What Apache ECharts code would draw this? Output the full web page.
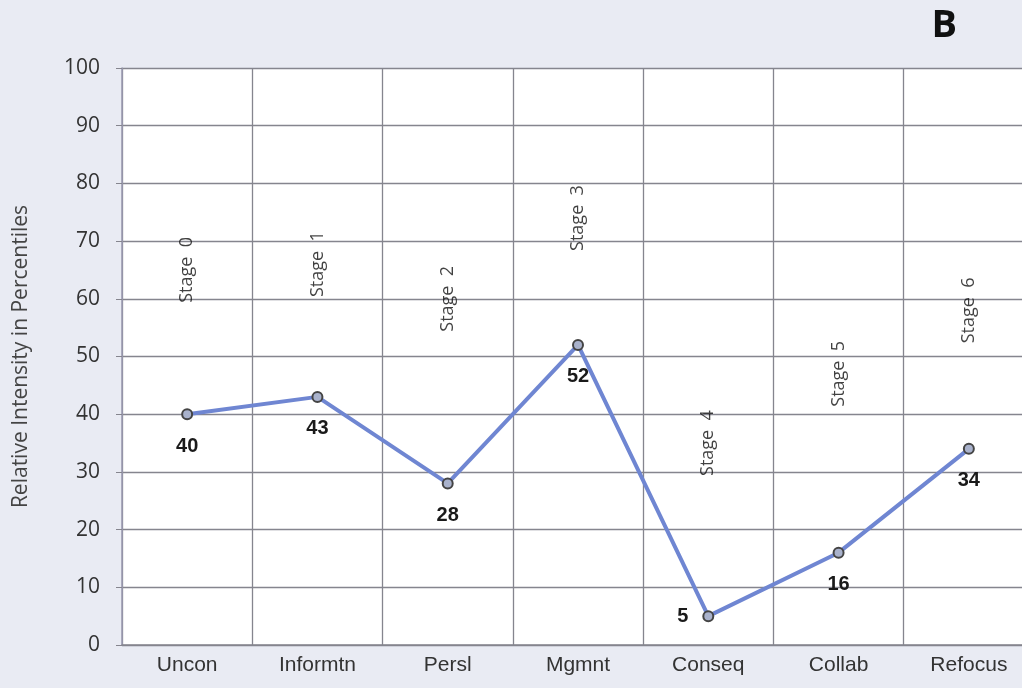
<!DOCTYPE html>
<html>
<head>
<meta charset="utf-8">
<script src="https://cdn.jsdelivr.net/npm/echarts@6/dist/echarts.min.js"></script>
<style>
  html, body { margin: 0; padding: 0; background: #e9ebf3; }
  #chart { width: 1022px; height: 688px; }
</style>
</head>
<body>
<div id="chart"></div>
<script>
const categories = ['Uncon', 'Informtn', 'Persl', 'Mgmnt', 'Conseq', 'Collab', 'Refocus'];
const values = [40, 43, 28, 52, 5, 16, 34];
const stageNames = ['Stage  0', 'Stage  1', 'Stage  2', 'Stage  3', 'Stage  4', 'Stage  5', 'Stage  6'];
const stageLabelY = [65, 66, 60, 74, 35, 47, 58];
const yTicks = { min: 0, max: 100, interval: 10 };

const chart = echarts.init(document.getElementById('chart'));

const gridColor = '#85858e';

// the value 5 label sits left of its point in the original
const lineData = values.map((v, i) => i === 4
  ? { value: v, label: { position: 'left', distance: 14 } }
  : v);

chart.setOption({
  backgroundColor: '#e9ebf3',
  animation: false,
  title: {
    text: 'B',
    right: 60,
    top: 2,
    textStyle: { fontFamily: 'Open Sans', fontWeight: 'bold', fontSize: 38, color: '#111' }
  },
  grid: {
    left: 122,
    right: -12,
    top: 68,
    bottom: 43,
    outerBoundsMode: 'none',
    containLabel: false,
    show: true,
    backgroundColor: '#ffffff',
    borderWidth: 0
  },
  xAxis: {
    type: 'category',
    data: categories,
    boundaryGap: true,
    axisLine: { show: true, lineStyle: { color: gridColor, width: 1.5 } },
    axisTick: { show: false },
    splitLine: { show: true, lineStyle: { color: gridColor, width: 1.3 } },
    axisLabel: {
      margin: 10,
      fontFamily: 'Liberation Sans Narrow, Liberation Sans, Arial',
      fontSize: 21,
      color: '#333'
    }
  },
  yAxis: {
    type: 'value',
    min: yTicks.min,
    max: yTicks.max,
    interval: yTicks.interval,
    name: 'Relative Intensity in Percentiles',
    nameLocation: 'middle',
    nameGap: 90,
    nameTextStyle: { fontFamily: 'Open Sans', fontSize: 21, color: '#444' },
    axisLine: { show: true, lineStyle: { color: '#9a9ab0', width: 1.5 } },
    axisTick: { show: true, length: 6, lineStyle: { color: gridColor } },
    splitLine: { show: true, lineStyle: { color: gridColor, width: 1.3 } },
    axisLabel: {
      margin: 22,
      fontFamily: 'Open Sans',
      fontSize: 21,
      color: '#333'
    }
  },
  series: [
    {
      type: 'line',
      data: lineData,
      symbol: 'circle',
      symbolSize: 10,
      lineStyle: { color: '#6f86d2', width: 4 },
      itemStyle: { color: '#a9b2cc', borderColor: '#444', borderWidth: 2 },
      z: 3,
      label: {
        show: true,
        position: 'bottom',
        distance: 16,
        fontFamily: 'Liberation Sans Narrow, Liberation Sans, Arial',
        fontWeight: 'bold',
        fontSize: 20,
        color: '#1a1a1a'
      }
    },
    {
      type: 'scatter',
      data: stageLabelY.map((v, i) => ({ value: [i, v], name: stageNames[i] })),
      symbolSize: 0,
      silent: true,
      z: 2,
      label: {
        show: true,
        position: 'inside',
        rotate: 90,
        formatter: p => p.name,
        fontFamily: 'Open Sans',
        fontSize: 18,
        color: '#111'
      }
    }
  ]
});
</script>
</body>
</html>
